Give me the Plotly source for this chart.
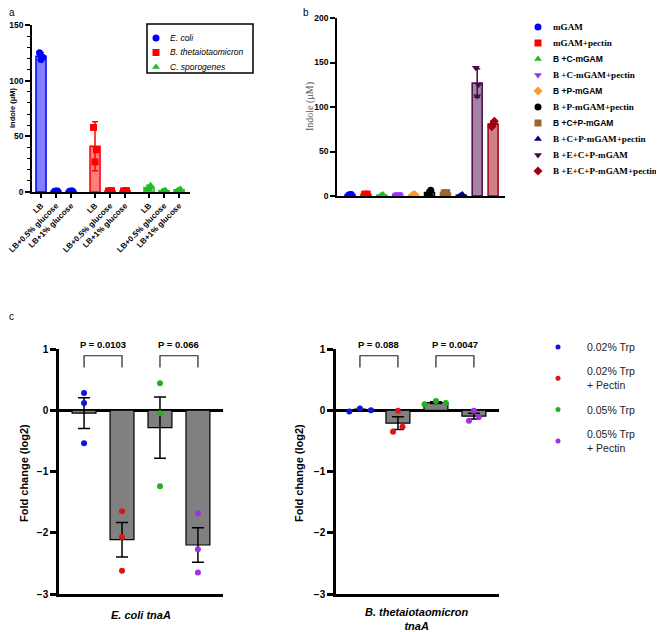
import plotly.graph_objects as go

# ---------------- data ----------------
# panel a: indole (uM) in LB media
a_media = ["LB", "LB+0.5% glucose", "LB+1% glucose"]
a_species = ["E. coli", "B. thetaiotaomicron", "C. sporogenes"]
ecoli_mean = [122, 0.8, 0.8]
ecoli_sd = [3, 0.2, 0.2]
ecoli_pts = [[125, 119, 121], [0.6, 0.8, 1.0], [0.6, 0.8, 1.0]]
btheta_mean = [41, 1.0, 1.0]
btheta_sd = [22, 0.2, 0.2]
btheta_pts = [[58, 27, 38], [0.8, 1.0, 1.2], [0.8, 1.0, 1.2]]
cspor_mean = [4, 1.2, 2.0]
cspor_sd = [2, 0.4, 0.6]
cspor_pts = [[2.5, 4, 6], [0.8, 1.2, 1.6], [1.4, 2.0, 2.6]]
a_yticks = [0, 50, 100, 150]

# panel b: indole (uM) in mGAM co-cultures
b_conditions = ["mGAM", "mGAM+pectin", "B +C-mGAM", "B +C-mGAM+pectin",
                "B +P-mGAM", "B +P-mGAM+pectin", "B +C+P-mGAM",
                "B +C+P-mGAM+pectin", "B +E+C+P-mGAM", "B +E+C+P-mGAM+pectin"]
b_mean = [1.5, 2.0, 1.0, 2.0, 1.0, 4.0, 3.5, 1.0, 127, 81]
b_sd = [0.3, 0.2, 0.8, 0.2, 0.5, 2.5, 0.3, 0.8, 16, 3]
b_pts = [[1.2, 1.5, 1.8], [1.9, 2.0, 2.1], [0.4, 1.0, 1.6], [1.8, 2.0, 2.2],
         [0.6, 1.0, 1.4], [1.5, 4.0, 6.5], [3.3, 3.5, 3.7], [0.4, 1.0, 1.6],
         [144, 112, 125], [78, 81, 84]]
b_yticks = [0, 50, 100, 150, 200]

# panel c: tnaA fold change (log2)
c_groups = ["0.02% Trp", "0.02% Trp<br>+ Pectin", "0.05% Trp", "0.05% Trp<br>+ Pectin"]
ecoli_fc = [[0.28, 0.12, -0.54], [-1.65, -2.07, -2.62],
            [0.44, -0.05, -1.24], [-1.68, -2.27, -2.65]]
btheta_fc = [[-0.02, 0.03, 0.0], [-0.01, -0.27, -0.35],
             [0.10, 0.15, 0.12], [-0.01, -0.11, -0.17]]
ecoli_p = ["P = 0.0103", "P = 0.066"]
btheta_p = ["P = 0.088", "P = 0.0047"]
c_yticks = [-3, -2, -1, 0, 1]

# ---------------- style ----------------
# the page body keeps its default 8px margin, so the figure is drawn 8px smaller
# and every layout position below is given in window pixels minus that margin
OFF = 8
WIN_W, WIN_H = 664, 632
W, H = WIN_W - OFF, WIN_H - OFF
SANS = "Liberation Sans"
SERIF = "Liberation Serif"
NARROW = "Liberation Sans Narrow, Liberation Sans"


def rgba(hex_, a):
    h = hex_.lstrip("#")
    return "rgba(%d,%d,%d,%s)" % (int(h[0:2], 16), int(h[2:4], 16), int(h[4:6], 16), a)


def fx(p):
    return (p - OFF) / W


def fy(p):
    return 1 - (p - OFF) / H


def dom_x(p0, p1):
    return [fx(p0), fx(p1)]


def dom_y(top, bottom):
    return [fy(bottom), fy(top)]


def mean(v):
    return sum(v) / len(v)


def sem(v):
    m = mean(v)
    return (sum((x - m) ** 2 for x in v) / (len(v) - 1)) ** 0.5 / len(v) ** 0.5


annotations = []
shapes = []


def text(s, x, y, size, family=SANS, color="black", xanchor="center", angle=0,
         align="center", weight="normal"):
    annotations.append(dict(text=s, x=fx(x), y=fy(y), xref="paper", yref="paper",
                            showarrow=False, xanchor=xanchor, yanchor="middle",
                            textangle=angle, align=align, borderpad=0,
                            font=dict(family=family, size=size, color=color, weight=weight)))


fig = go.Figure()

# ---------------- panel a ----------------
a_colors = ["#0000ff", "#ff0000", "#22bb22"]
a_symbols = ["circle", "square", "triangle-up"]
jit = [-0.1, 0, 0.1]
group_step = 3.6
a_x = []
for g, (m, sd, pts) in enumerate([(ecoli_mean, ecoli_sd, ecoli_pts),
                                  (btheta_mean, btheta_sd, btheta_pts),
                                  (cspor_mean, cspor_sd, cspor_pts)]):
    c = a_colors[g]
    xs = [g * group_step + i for i in range(len(a_media))]
    a_x += xs
    fig.add_trace(go.Bar(x=xs, y=m, width=0.67, xaxis="x", yaxis="y",
                         marker=dict(color=rgba(c, 0.5), line=dict(color=c, width=1.5)),
                         error_y=dict(type="data", array=sd, color=c, thickness=1.5, width=3)))
    ptx, pty = [], []
    for x, vals in zip(xs, pts):
        for j, v in enumerate(vals):
            ptx.append(x + jit[j])
            pty.append(v)
    fig.add_trace(go.Scatter(x=ptx, y=pty, mode="markers", xaxis="x", yaxis="y",
                             marker=dict(symbol=a_symbols[g], size=7, color=c)))

# legend a (drawn on a hidden full-canvas axis)
shapes.append(dict(type="rect", xref="paper", yref="paper", x0=fx(147), x1=fx(253),
                   y0=fy(73), y1=fy(24), line=dict(color="black", width=1.5)))
for i, name in enumerate(a_species):
    ry = 38 + 14.5 * i
    fig.add_trace(go.Scatter(x=[156], y=[ry], mode="markers", xaxis="x5", yaxis="y5",
                             marker=dict(symbol=a_symbols[i], size=7, color=a_colors[i])))
    text("<i>%s</i>" % name, 169, ry, 8.5, xanchor="left")

# ---------------- panel b ----------------
b_colors = ["#0000ff", "#ff0000", "#22bb22", "#9933ff", "#ff9922",
            "#000000", "#9a662c", "#000080", "#4a0a4a", "#a00010"]
b_symbols = ["circle", "square", "triangle-up", "triangle-down", "diamond",
             "circle", "square", "triangle-up", "triangle-down", "diamond"]
b_fonts = [SERIF, SERIF, SANS, SERIF, SANS, SERIF, SANS, SERIF, SERIF, SERIF]
for i, name in enumerate(b_conditions):
    c = b_colors[i]
    fig.add_trace(go.Bar(x=[i], y=[b_mean[i]], width=0.63, xaxis="x2", yaxis="y2",
                         marker=dict(color=rgba(c, 0.5), line=dict(color=c, width=1.5)),
                         error_y=dict(type="data", array=[b_sd[i]], color=c, thickness=1.5, width=3)))
    fig.add_trace(go.Scatter(x=[i + jit[j] * 0.8 for j in range(len(b_pts[i]))], y=b_pts[i],
                             mode="markers", xaxis="x2", yaxis="y2",
                             marker=dict(symbol=b_symbols[i], size=7, color=c)))
    ry = 27 + 16 * i
    fig.add_trace(go.Scatter(x=[538], y=[ry], mode="markers", xaxis="x5", yaxis="y5",
                             marker=dict(symbol=b_symbols[i], size=7, color=c)))
    text(name, 552, ry, 9.1 if b_fonts[i] == SERIF else 8.5,
         family=b_fonts[i], xanchor="left", weight="bold")

# ---------------- panel c ----------------
c_colors = ["#1414d8", "#e01414", "#22b022", "#a032e0"]
c_jitter = {"3": [[0, 0, 0]] * 4,
            "4": [[-0.28, 0, 0.29], [0, 0.12, -0.13], [-0.3, 0, 0.26], [0, 0.13, -0.13]]}
bracket_top, bracket_leg = 0.89, 0.70
p_text_px = 344
for ax, data, pvals in (("3", ecoli_fc, ecoli_p), ("4", btheta_fc, btheta_p)):
    xs = list(range(len(data)))
    fig.add_trace(go.Bar(x=xs, y=[mean(v) for v in data], width=0.63,
                         xaxis="x" + ax, yaxis="y" + ax,
                         marker=dict(color="#808080", line=dict(color="black", width=1.2)),
                         error_y=dict(type="data", array=[sem(v) for v in data],
                                      color="black", thickness=1.5, width=6)))
    for i, vals in enumerate(data):
        fig.add_trace(go.Scatter(x=[i + o for o in c_jitter[ax][i]], y=vals, mode="markers",
                                 xaxis="x" + ax, yaxis="y" + ax,
                                 marker=dict(size=6, color=c_colors[i])))
    for k, p in enumerate(pvals):
        x0, x1 = 2 * k, 2 * k + 1
        shapes.append(dict(type="path", xref="x" + ax, yref="y" + ax,
                           path="M %s,%s L %s,%s L %s,%s L %s,%s" % (
                               x0, bracket_leg, x0, bracket_top, x1, bracket_top, x1, bracket_leg),
                           line=dict(color="#222", width=1.2)))
        annotations.append(dict(text=p, x=(x0 + x1) / 2, y=fy(p_text_px),
                                xref="x" + ax, yref="paper", showarrow=False,
                                yanchor="middle",
                                font=dict(family=NARROW, size=9.5, color="black", weight="bold")))

for i, name in enumerate(c_groups):
    ry = 347 + 31.3 * i
    fig.add_trace(go.Scatter(x=[558], y=[ry], mode="markers", xaxis="x5", yaxis="y5",
                             marker=dict(size=5, color=c_colors[i])))
    text(name, 586, ry, 10.5, color="#222", xanchor="left", align="left")

# ---------------- titles ----------------
text("a", 12, 13, 10)
text("b", 306, 13, 10)
text("c", 11, 316, 10)
text("Indole (μM)", 13, 108, 7.5, angle=-90, weight="bold")
text("Indole (μM)", 310, 107, 10, family=SERIF, color="#555", angle=-90)
text("Fold change (log2)", 24, 473, 11, angle=-90, weight="bold")
text("Fold change (log2)", 299, 473, 11, angle=-90, weight="bold")
text("<i>E. coli tnaA</i>", 141, 615, 11, weight="bold")
text("<i>B. thetaiotaomicron<br>tnaA</i>", 417, 619, 11, weight="bold")

# ---------------- axes ----------------
line = dict(showline=True, linecolor="black", showgrid=False, zeroline=False)
tick_font = dict(family=SANS, size=8.5, color="black", weight="bold")

fig.update_layout(
    width=W, height=H, margin=dict(l=0, r=0, t=0, b=0, autoexpand=False),
    paper_bgcolor="white", plot_bgcolor="rgba(0,0,0,0)",
    showlegend=False, barmode="overlay", hovermode=False,
    annotations=annotations, shapes=shapes,
    xaxis=dict(domain=dom_x(32, 190), range=[-0.6, 9.93], anchor="y", linewidth=1.8,
               tickmode="array", tickvals=a_x, ticktext=a_media * 3, tickangle=-45,
               ticks="outside", ticklen=4, tickwidth=1.5, tickcolor="black",
               ticklabeloverflow="allow",
               tickfont=dict(family=SANS, size=8, color="black", weight="bold"), **line),
    yaxis=dict(domain=dom_y(25, 192), range=[0, 150], anchor="x", linewidth=1.8,
               tickmode="array", tickvals=a_yticks, ticks="outside", ticklen=5,
               tickwidth=1.5, tickcolor="black", tickfont=tick_font,
               minor=dict(tickmode="linear", tick0=0, dtick=10, ticks="outside",
                          ticklen=3, tickwidth=1, tickcolor="black", showgrid=False),
               **line),
    xaxis2=dict(domain=dom_x(337, 505), range=[-0.82, 9.75], anchor="y2", linewidth=1.5,
                showticklabels=False, ticks="", **line),
    yaxis2=dict(domain=dom_y(18, 196), range=[0, 200], anchor="x2", linewidth=1.5,
                tickmode="array", tickvals=b_yticks, ticks="outside", ticklen=5,
                tickwidth=1.5, tickcolor="black", tickfont=tick_font, **line),
    xaxis3=dict(domain=dom_x(59, 223), range=[-0.66, 3.66], anchor="y3", linewidth=2.5,
                showticklabels=False, ticks="", **line),
    xaxis4=dict(domain=dom_x(336, 499), range=[-0.63, 3.66], anchor="y4", linewidth=2.5,
                showticklabels=False, ticks="", **line),
    # hidden canvas axis in window pixels, used for the legend keys
    xaxis5=dict(domain=[0, 1], range=[OFF, WIN_W], anchor="y5", visible=False),
    yaxis5=dict(domain=[0, 1], range=[WIN_H, OFF], anchor="x5", visible=False),
)
for ax, x in (("yaxis3", "x3"), ("yaxis4", "x4")):
    fig.update_layout({ax: dict(domain=dom_y(349, 594), range=[-3, 1], anchor=x,
                                showline=True, linecolor="black", linewidth=2.5, showgrid=False,
                                zeroline=True, zerolinecolor="black", zerolinewidth=2.5,
                                tickmode="array", tickvals=c_yticks, ticks="outside",
                                ticklen=6, tickwidth=2.5, tickcolor="black",
                                tickfont=dict(family=SANS, size=10, color="black", weight="bold"))})
fig.update_xaxes(automargin=False)
fig.update_yaxes(automargin=False)

fig.write_html("out.html")
